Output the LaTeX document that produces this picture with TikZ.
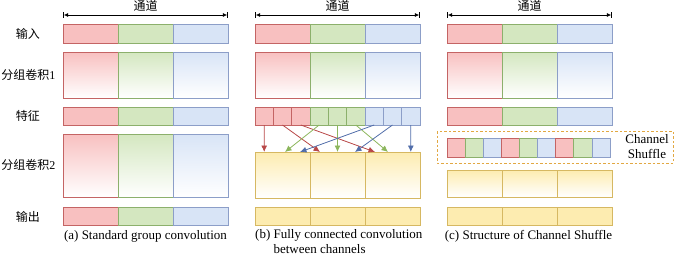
\documentclass[tikz,border=0pt]{standalone}
\usepackage{fontspec}
\setmainfont{Liberation Serif}
\newfontfamily\cjk{Noto Sans CJK SC}
\usepackage{xcolor}
\usetikzlibrary{arrows.meta}
\definecolor{redF}{RGB}{248,192,192}
\definecolor{redD}{RGB}{196,100,100}
\definecolor{greenF}{RGB}{212,231,192}
\definecolor{greenD}{RGB}{140,176,108}
\definecolor{blueF}{RGB}{216,228,246}
\definecolor{blueD}{RGB}{140,158,200}
\definecolor{yelF}{RGB}{253,236,176}
\definecolor{yelD}{RGB}{214,184,98}
\definecolor{redA}{RGB}{184,72,72}
\definecolor{greenA}{RGB}{140,182,92}
\definecolor{blueA}{RGB}{82,110,170}
\definecolor{shufD}{RGB}{226,168,66}
\tikzset{
  cell/.style={draw=#1D, fill=#1F, line width=0.7pt, inner sep=0pt, outer sep=0pt,
    anchor=north west, minimum width=55pt},
  cellshade/.style={draw=#1D, top color=#1F, bottom color=white, line width=0.7pt,
    inner sep=0pt, outer sep=0pt, anchor=north west, minimum width=55pt},
  rowlabel/.style={font=\fontsize{12}{14}\selectfont, inner sep=0pt},
  caption/.style={font=\fontsize{13}{15}\selectfont, inner sep=0pt},
  span/.style={|<->|, >={Latex[length=4.5pt,width=4pt]}, line width=0.7pt},
  flow/.style={-{Latex[length=6.5pt,width=6pt]}, draw=#1, line width=0.8pt},
}

\begin{document}
\begin{tikzpicture}[x=1pt,y=-1pt]
\useasboundingbox (0,0) rectangle (677,255);
% row labels
\node[rowlabel] (l-in) at (28,34) {\cjk 输入};
\node[rowlabel] (l-g1) at (28.5,75) {{\cjk 分组卷积}1};
\node[rowlabel] (l-f) at (28,116) {\cjk 特征};
\node[rowlabel] (l-g2) at (28.5,165) {{\cjk 分组卷积}2};
\node[rowlabel] (l-out) at (28,217) {\cjk 输出};
% common rows of the three panels
\foreach \p/\x in {a/63,b/255,c/447}{
  \node[rowlabel] (\p-ch) at (\x+82.5,6) {\cjk 通道};
  \coordinate (\p-hl) at (\x,15);
  \coordinate (\p-hr) at (\x+165,15);
  \draw[span] (\p-hl) -- (\p-hr);
  \foreach \c [count=\i from 0] in {red,green,blue}{
    \node[cell=\c, minimum height=19pt] (\p-in-\i) at (\x+55*\i,24) {};
    \node[cellshade=\c, minimum height=46pt] (\p-g1-\i) at (\x+55*\i,52) {};
  }
}
% panel (a)
\foreach \c [count=\i from 0] in {red,green,blue}{
  \node[cell=\c, minimum height=18pt] (a-f-\i) at (63+55*\i,107) {};
  \node[cellshade=\c, minimum height=63pt] (a-g2-\i) at (63+55*\i,134) {};
  \node[cell=\c, minimum height=18pt] (a-out-\i) at (63+55*\i,207) {};
  \node[cell=\c, minimum height=18pt] (c-f-\i) at (447+55*\i,107) {};
}
% panel (b)
\foreach \c [count=\i] in {red,red,red,green,green,green,blue,blue,blue}
  \node[cell=\c, minimum width=18.333pt, minimum height=18pt] (b-f-\i) at (236.667+18.333*\i,107) {};
\foreach \i in {0,1,2}{
  \node[cellshade=yel, minimum height=46pt] (b-g2-\i) at (255+55*\i,152) {};
  \node[cell=yel, minimum height=18pt] (b-out-\i) at (255+55*\i,207) {};
  \node[cellshade=yel, minimum height=27pt] (c-g2-\i) at (447+55*\i,170) {};
  \node[cell=yel, minimum height=18pt] (c-out-\i) at (447+55*\i,207) {};
}
\foreach \s/\t/\c in {1/264.2/redA,2/320/redA,3/375/redA,4/285/greenA,5/337.5/greenA,
    6/388/greenA,7/300/blueA,8/355/blueA,9/410.8/blueA}{
  \coordinate (tgt-\s) at (\t,152);
  \draw[flow=\c] (b-f-\s.south) -- (tgt-\s);
}
% panel (c)
\draw[draw=shufD, dash pattern=on 2.5pt off 2pt, line width=0.9pt] (437,131) rectangle (673,163);
\foreach \c [count=\i] in {red,green,blue,red,green,blue,red,green,blue}
  \node[cell=\c, minimum width=18.111pt, minimum height=19pt] (c-s-\i) at (428.889+18.111*\i,138) {};
\node[caption, align=center] (shuf) at (647,147) {Channel\\Shuffle};
% captions
\node[caption] (cap-a) at (145.5,236) {(a) Standard group convolution};
\node[caption, align=left, anchor=north west] (cap-b) at (255,229) {(b) Fully connected convolution\\\phantom{(b) }between channels};
\node[caption] (cap-c) at (528.5,236) {(c) Structure of Channel Shuffle};
\end{tikzpicture}
\end{document}
